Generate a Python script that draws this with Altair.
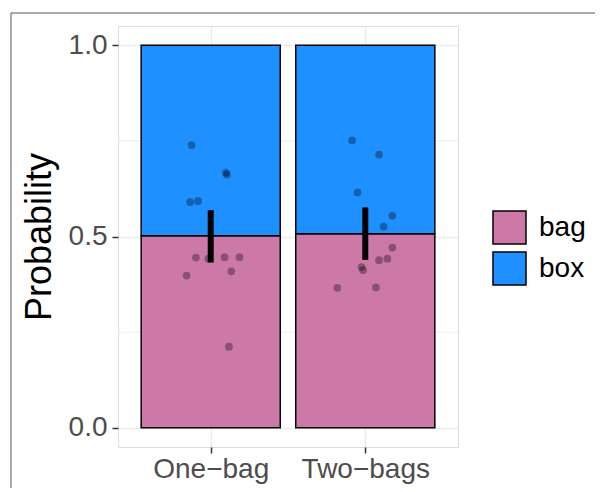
import altair as alt
import pandas as pd

# ---- data ----
conditions = ["One\u2212bag", "Two\u2212bags"]
cond_pos = [1, 2]
responses = ["bag", "box"]
bag_prob = [0.502, 0.507]
err_lo = [0.432, 0.439]
err_hi = [0.569, 0.576]

# individual points (jitter in category units)
pt_cond = [1] * 12 + [2] * 12
pt_jit = [-0.124, 0.098, 0.105, -0.133, -0.082, -0.096, -0.015, 0.090, 0.186, -0.156, 0.133, 0.118,
          -0.085, 0.089, -0.050, 0.175, 0.119, 0.175, 0.089, 0.143, -0.024, -0.014, -0.181, 0.069]
pt_val = [0.739, 0.667, 0.662, 0.590, 0.593, 0.445, 0.442, 0.446, 0.446, 0.398, 0.409, 0.212,
          0.751, 0.714, 0.615, 0.554, 0.526, 0.471, 0.438, 0.442, 0.420, 0.412, 0.366, 0.367]

minor_grid = [0.25, 0.75]
y_ticks = [0, 0.5, 1]

# ---- tables ----
bars = pd.DataFrame({
    "pos": [p for p in cond_pos for _ in responses],
    "resp": responses * len(cond_pos),
    "prob": [v for b in bag_prob for v in (b, 1 - b)],
    "ord": [0, 1] * len(cond_pos),
})
errs = pd.DataFrame({"pos": cond_pos, "lo": err_lo, "hi": err_hi})
pts = pd.DataFrame({"pos": pt_cond, "jit": pt_jit, "val": pt_val})
grid_df = pd.DataFrame({"g": minor_grid})
one = pd.DataFrame({"a": [0]})

label_expr = " : ".join(
    [f"datum.value == {p} ? '{c}'" for p, c in zip(cond_pos[:-1], conditions[:-1])]
    + [f"'{conditions[-1]}'"]
)

FONT = "Liberation Sans"
xscale = alt.Scale(domain=[0.4, 2.6], nice=False, zero=False)
yscale = alt.Scale(domain=[-0.05, 1.05], nice=False, zero=False)

x_axis = alt.Axis(values=cond_pos, labelExpr=label_expr, title=None, grid=True,
                  gridColor="#EBEBEB", gridWidth=1.5, domain=False,
                  tickColor="#333333", tickSize=6, tickWidth=1.5,
                  labelColor="#4D4D4D", labelFontSize=28, labelFont=FONT,
                  labelPadding=2)
y_axis = alt.Axis(values=y_ticks, format=".1f", title="Probability", grid=True,
                  gridColor="#EBEBEB", gridWidth=1.5, domain=False,
                  tickColor="#333333", tickSize=6, tickWidth=1.5,
                  labelColor="#4D4D4D", labelFontSize=28, labelFont=FONT,
                  labelPadding=5, titleFont=FONT, titleFontSize=36,
                  titleFontWeight="normal", titleColor="black", titlePadding=10)

minor = alt.Chart(grid_df).mark_rule(color="#EBEBEB", strokeWidth=1).encode(
    y=alt.Y("g:Q", scale=yscale, axis=y_axis),
)

bar_layer = alt.Chart(bars).transform_stack(
    stack="prob", groupby=["pos"], as_=["y0", "y1"], sort=[alt.SortField("ord")]
).transform_calculate(
    xl="datum.pos - 0.45", xr="datum.pos + 0.45"
).mark_bar(stroke="black", strokeWidth=1.5).encode(
    x=alt.X("xl:Q", scale=xscale, axis=x_axis),
    x2="xr:Q",
    y=alt.Y("y0:Q", scale=yscale),
    y2="y1:Q",
    fill=alt.Fill("resp:N", scale=alt.Scale(domain=responses, range=["#CC79A7", "#1E90FF"]),
                  legend=alt.Legend(title=None, orient="none", legendX=374, legendY=184,
                                    symbolType="square", symbolSize=1090,
                                    symbolStrokeColor="black", symbolStrokeWidth=1.5,
                                    symbolOpacity=1, labelFontSize=28, labelFont=FONT,
                                    labelColor="black", rowPadding=0, labelOffset=12,
                                    padding=0)),
)

pt_layer = alt.Chart(pts).transform_calculate(
    xp="datum.pos + datum.jit"
).mark_circle(color="black", opacity=0.33, size=60).encode(
    x=alt.X("xp:Q", scale=xscale),
    y=alt.Y("val:Q", scale=yscale),
)

err_layer = alt.Chart(errs).mark_rule(color="black", strokeWidth=6, strokeCap="butt").encode(
    x=alt.X("pos:Q", scale=xscale),
    y=alt.Y("lo:Q", scale=yscale),
    y2="hi:Q",
)

frame_left = alt.Chart(one).mark_rule(color="#555555", strokeWidth=1).encode(
    x=alt.value(-107), y=alt.value(-13), y2=alt.value(470))
frame_top = alt.Chart(one).mark_rule(color="#555555", strokeWidth=1).encode(
    x=alt.value(-107), x2=alt.value(490), y=alt.value(-13))

chart = alt.layer(minor, bar_layer, pt_layer, err_layer, frame_left, frame_top).properties(
    width=340, height=421,
    autosize=alt.AutoSizeParams(type="none"),
    padding={"left": 110, "top": 18, "right": 137, "bottom": 41},
).configure_view(stroke="#333333", strokeWidth=1.5).configure(background="white")

chart.save("out.html", embed_options={"renderer": "svg", "actions": False})
